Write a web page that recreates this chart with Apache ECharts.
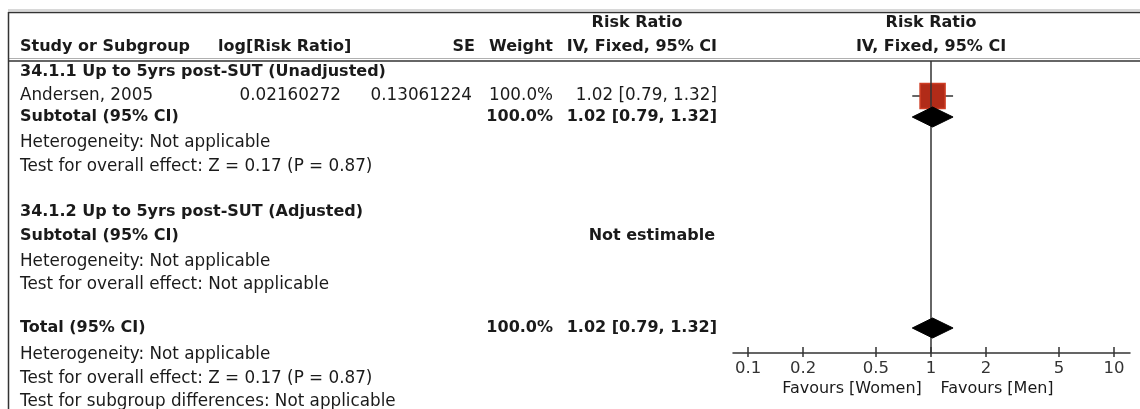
<!DOCTYPE html>
<html>
<head>
<meta charset="utf-8">
<title>Risk Ratio forest plot</title>
<script src="https://cdn.jsdelivr.net/npm/echarts@6/dist/echarts.min.js"></script>
<style>
  html, body { margin: 0; padding: 0; background: #ffffff; }
  #chart { width: 1140px; height: 409px; }
</style>
</head>
<body>
<div id="chart"></div>
<script>
// ---- data ----
const studyNames = ['Andersen, 2005'];
const studyLogRR = ['0.02160272'];
const studySE = ['0.13061224'];
const studyWeight = [100.0];
const studyRR = [1.02];
const studyLow = [0.79];
const studyHigh = [1.32];

// subgroup / total pooled estimates: [estimate, lower, upper]
const subgroup1 = [1.02, 0.79, 1.32];
const subgroup1Weight = 100.0;
const subgroup2 = null; // not estimable
const totalPooled = [1.02, 0.79, 1.32];
const totalWeight = 100.0;

const tickValues = [0.1, 0.2, 0.5, 1, 2, 5, 10];
const tickLabels = ['0.1', '0.2', '0.5', '1', '2', '5', '10'];

// ---- layout ----
const FONT = '"DejaVu Sans", Verdana, sans-serif';
const SIZE = 16.8;
const SIZE_BOLD = 16;
const INK = '#1a1a1a';
const ROWS = {
  hdr1: 23, hdr2: 47, g1: 72, study: 96, sub1: 117, het1: 143, eff1: 167,
  g2: 212, sub2: 236, het2: 262, eff2: 285, total: 328, hetT: 355, effT: 379, subg: 402
};
const COL = { name: 20, logRR: 341, se: 472, weight: 553, ci: 717, plot: 931 };

const fmtCI = (e, l, h) => `${e.toFixed(2)} [${l.toFixed(2)}, ${h.toFixed(2)}]`;
const fmtW = w => w.toFixed(1) + '%';

function txt(text, x, y, opts) {
  opts = opts || {};
  const size = opts.size || (opts.bold ? SIZE_BOLD : SIZE);
  return {
    type: 'text', x: x, y: y, silent: true,
    style: {
      text: text,
      fill: opts.fill || INK,
      font: (opts.bold ? 'bold ' : '') + size + 'px ' + FONT,
      align: opts.align || 'left',
      verticalAlign: 'middle'
    }
  };
}
function hline(y, x1, x2, color, w) {
  return { type: 'line', silent: true, shape: { x1: x1, y1: y, x2: x2, y2: y },
    style: { stroke: color, lineWidth: w } };
}

const graphics = [
  // frame
  hline(10, 8, 1140, '#b0b0b0', 1),
  hline(12.5, 8, 1140, '#333333', 1.5),
  hline(58.5, 8, 1140, '#b0b0b0', 1),
  hline(61, 8, 1140, '#333333', 1.5),
  { type: 'line', silent: true, shape: { x1: 8.5, y1: 12, x2: 8.5, y2: 409 },
    style: { stroke: '#333333', lineWidth: 1.5 } },

  // headers
  txt('Risk Ratio', 637, ROWS.hdr1, { bold: true, align: 'center' }),
  txt('Risk Ratio', COL.plot, ROWS.hdr1, { bold: true, align: 'center' }),
  txt('Study or Subgroup', COL.name, ROWS.hdr2, { bold: true }),
  txt('log[Risk Ratio]', 218, ROWS.hdr2, { bold: true }),
  txt('SE', 475, ROWS.hdr2, { bold: true, align: 'right' }),
  txt('Weight', COL.weight, ROWS.hdr2, { bold: true, align: 'right' }),
  txt('IV, Fixed, 95% CI', COL.ci, ROWS.hdr2, { bold: true, align: 'right' }),
  txt('IV, Fixed, 95% CI', COL.plot, ROWS.hdr2, { bold: true, align: 'center' }),

  // subgroup 1
  txt('34.1.1 Up to 5yrs post-SUT (Unadjusted)', COL.name, ROWS.g1, { bold: true }),
  txt(studyNames[0], COL.name, ROWS.study),
  txt(studyLogRR[0], COL.logRR, ROWS.study, { align: 'right' }),
  txt(studySE[0], COL.se, ROWS.study, { align: 'right' }),
  txt(fmtW(studyWeight[0]), COL.weight, ROWS.study, { align: 'right' }),
  txt(fmtCI(studyRR[0], studyLow[0], studyHigh[0]), COL.ci, ROWS.study, { align: 'right' }),
  txt('Subtotal (95% CI)', COL.name, ROWS.sub1, { bold: true }),
  txt(fmtW(subgroup1Weight), COL.weight, ROWS.sub1, { bold: true, align: 'right' }),
  txt(fmtCI(subgroup1[0], subgroup1[1], subgroup1[2]), COL.ci, ROWS.sub1, { bold: true, align: 'right' }),
  txt('Heterogeneity: Not applicable', COL.name, ROWS.het1),
  txt('Test for overall effect: Z = 0.17 (P = 0.87)', COL.name, ROWS.eff1),

  // subgroup 2
  txt('34.1.2 Up to 5yrs post-SUT (Adjusted)', COL.name, ROWS.g2, { bold: true }),
  txt('Subtotal (95% CI)', COL.name, ROWS.sub2, { bold: true }),
  txt(subgroup2 ? fmtCI(subgroup2[0], subgroup2[1], subgroup2[2]) : 'Not estimable',
      COL.ci - 2, ROWS.sub2, { bold: true, align: 'right' }),
  txt('Heterogeneity: Not applicable', COL.name, ROWS.het2),
  txt('Test for overall effect: Not applicable', COL.name, ROWS.eff2),

  // overall
  txt('Total (95% CI)', COL.name, ROWS.total, { bold: true }),
  txt(fmtW(totalWeight), COL.weight, ROWS.total, { bold: true, align: 'right' }),
  txt(fmtCI(totalPooled[0], totalPooled[1], totalPooled[2]), COL.ci, ROWS.total, { bold: true, align: 'right' }),
  txt('Heterogeneity: Not applicable', COL.name, ROWS.hetT),
  txt('Test for overall effect: Z = 0.17 (P = 0.87)', COL.name, ROWS.effT),
  txt('Test for subgroup differences: Not applicable', COL.name, ROWS.subg),

  // favours labels under the axis
  txt('Favours [Women]', 852, 389, { align: 'center', size: 16 }),
  txt('Favours [Men]', 997, 389, { align: 'center', size: 16 })
];

// pooled diamonds: [estimate, lower, upper, row]
const diamonds = [];
if (subgroup1) diamonds.push([subgroup1[0], subgroup1[1], subgroup1[2], ROWS.sub1]);
if (subgroup2) diamonds.push([subgroup2[0], subgroup2[1], subgroup2[2], ROWS.sub2]);
diamonds.push([totalPooled[0], totalPooled[1], totalPooled[2], ROWS.total]);

const studyRows = [ROWS.study];

const PLOT_TOP = 61, PLOT_BOTTOM = 353;
const axisCommon = {
  type: 'log', logBase: 10,
  min: 0.08279, max: 12.23,
  splitLine: { show: false },
  position: 'bottom'
};

const chart = echarts.init(document.getElementById('chart'), null, { renderer: 'canvas' });
chart.setOption({
  animation: false,
  backgroundColor: '#ffffff',
  graphic: graphics,
  grid: { left: 733, width: 397, top: PLOT_TOP, height: PLOT_BOTTOM - PLOT_TOP },
  xAxis: [
    Object.assign({}, axisCommon, {
      axisLine: { show: true, lineStyle: { color: '#333333', width: 1.5 } },
      axisTick: { show: true, inside: false, length: 4, customValues: tickValues,
        lineStyle: { color: '#333333', width: 1.5 } },
      axisLabel: {
        show: true, customValues: tickValues, margin: 7,
        color: '#333333', fontFamily: FONT, fontSize: 16.5,
        formatter: function (v) {
          let best = 0, d = Infinity;
          tickValues.forEach(function (t, i) {
            const dd = Math.abs(Math.log(v) - Math.log(t));
            if (dd < d) { d = dd; best = i; }
          });
          return tickLabels[best];
        }
      }
    }),
    Object.assign({}, axisCommon, {
      axisLine: { show: false },
      axisTick: { show: true, inside: true, length: 6, customValues: tickValues,
        lineStyle: { color: '#333333', width: 1.5 } },
      axisLabel: { show: false }
    })
  ],
  yAxis: {
    type: 'value', min: PLOT_TOP, max: PLOT_BOTTOM, inverse: true, show: false,
    splitLine: { show: false }
  },
  series: [
    {
      // line of no effect
      type: 'line', data: [], silent: true,
      markLine: {
        silent: true, symbol: 'none', label: { show: false },
        lineStyle: { color: '#333333', width: 1.5, type: 'solid' },
        data: [{ xAxis: 1 }]
      }
    },
    {
      // study confidence intervals
      type: 'custom', silent: true, z: 3,
      data: studyRR.map(function (e, i) { return [studyLow[i], studyHigh[i], studyRows[i]]; }),
      renderItem: function (params, api) {
        const a = api.coord([api.value(0), api.value(2)]);
        const b = api.coord([api.value(1), api.value(2)]);
        return { type: 'line', shape: { x1: a[0], y1: a[1], x2: b[0], y2: b[1] },
          style: { stroke: '#333333', lineWidth: 1.5 } };
      }
    },
    {
      // study point estimates
      type: 'scatter', silent: true, z: 4,
      symbol: 'rect', symbolSize: 25,
      itemStyle: { color: '#b12b18', borderColor: '#cf3d24', borderWidth: 1.5, opacity: 1 },
      data: studyRR.map(function (e, i) { return [e, studyRows[i]]; })
    },
    {
      // pooled diamonds
      type: 'custom', silent: true, z: 5,
      data: diamonds,
      renderItem: function (params, api) {
        const y = api.value(3);
        const c = api.coord([api.value(0), y]);
        const l = api.coord([api.value(1), y]);
        const r = api.coord([api.value(2), y]);
        const h = 10;
        return { type: 'polygon',
          shape: { points: [[l[0], c[1]], [c[0], c[1] - h], [r[0], c[1]], [c[0], c[1] + h]] },
          style: { fill: '#000000', stroke: '#000000', lineWidth: 1 } };
      }
    }
  ]
});
</script>
</body>
</html>
